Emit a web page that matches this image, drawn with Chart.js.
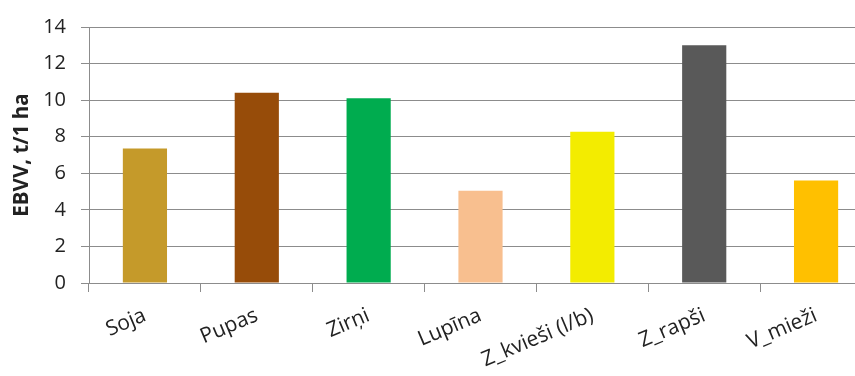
<!DOCTYPE html>
<html>
<head>
<meta charset="utf-8">
<script src="https://cdn.jsdelivr.net/npm/chart.js@4/dist/chart.umd.min.js"></script>
<style>
  html, body { margin: 0; padding: 0; background: #fff; overflow: hidden; }
  #wrap { width: 872px; height: 376px; }
</style>
</head>
<body>
<div id="wrap"><canvas id="c" width="872" height="376"></canvas></div>
<script>
// Crops and their EBVV yield, t per 1 ha
const crops = ['Soja', 'Pupas', 'Zirņi', 'Lupīna', 'Z_kvieši (l/b)', 'Z_rapši', 'V_mieži'];
const ebvv = [7.35, 10.4, 10.1, 5.05, 8.27, 13.0, 5.6];
const barColors = ['#C59A2A', '#974C09', '#00AC4F', '#F8BF8F', '#F3EC00', '#595959', '#FFC000'];
const yTitle = 'EBVV, t/1 ha';

const gridGray = '#8c8c8c';
const textColor = '#222222';
const fontFamily = '"Open Sans", "DejaVu Sans", sans-serif';

new Chart(document.getElementById('c'), {
  type: 'bar',
  data: {
    labels: crops,
    datasets: [{
      data: ebvv,
      backgroundColor: barColors,
      borderWidth: 0,
      barPercentage: 0.395,
      categoryPercentage: 1.0
    }]
  },
  options: {
    responsive: false,
    animation: false,
    devicePixelRatio: 1,
    layout: { padding: { top: 19, right: 0, bottom: 0, left: 0 } },
    plugins: {
      legend: { display: false },
      tooltip: { enabled: false }
    },
    scales: {
      x: {
        grid: {
          offset: true,
          drawOnChartArea: false,
          drawTicks: true,
          tickLength: 9,
          color: gridGray
        },
        border: { display: true, color: gridGray, width: 1 },
        ticks: {
          color: textColor,
          font: { family: fontFamily, size: 21 },
          minRotation: 23,
          maxRotation: 23,
          padding: 11,
          autoSkip: false
        },
        afterFit(scale) { scale.height = 93; }
      },
      y: {
        min: 0,
        max: 14,
        grid: {
          color: gridGray,
          lineWidth: 1,
          drawTicks: true,
          tickLength: 8
        },
        border: { display: true, color: gridGray, width: 1 },
        ticks: {
          stepSize: 2,
          color: textColor,
          font: { family: fontFamily, size: 20 },
          padding: 15
        },
        title: {
          display: true,
          text: yTitle,
          color: textColor,
          font: { family: fontFamily, size: 20.5, weight: 'bold' },
          padding: { top: 10, bottom: 0 }
        },
        afterFit(scale) { scale.width = 89; }
      }
    }
  }
});
</script>
</body>
</html>
